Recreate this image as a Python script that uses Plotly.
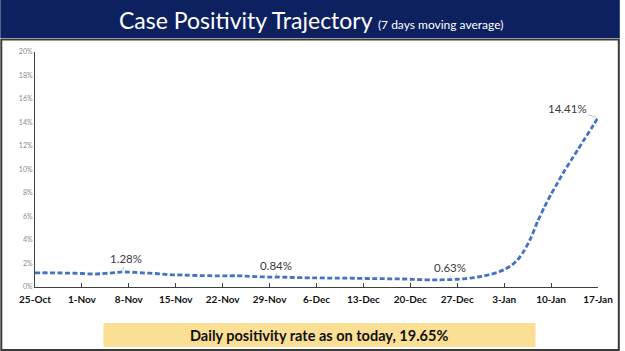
import plotly.graph_objects as go
import pandas as pd

start_date = "2020-10-25"
end_date = "2021-01-17"
positivity = [
    1.20, 1.21, 1.21, 1.20, 1.19, 1.18, 1.17,
    1.15, 1.12, 1.10, 1.14, 1.18, 1.22, 1.28,
    1.27, 1.24, 1.20, 1.18, 1.15, 1.10, 1.05,
    1.03, 1.02, 1.00, 0.98, 0.97, 0.96, 0.95,
    0.95, 0.95, 0.96, 0.94, 0.91, 0.88, 0.86,
    0.84, 0.85, 0.84, 0.82, 0.80, 0.79, 0.78,
    0.78, 0.77, 0.76, 0.76, 0.75, 0.75, 0.74,
    0.73, 0.72, 0.72, 0.71, 0.70, 0.69, 0.68,
    0.66, 0.64, 0.62, 0.61, 0.61, 0.62, 0.63,
    0.66, 0.70, 0.76, 0.84, 0.95, 1.08, 1.25,
    1.48, 1.80, 2.30, 3.10, 4.20, 5.60, 6.80,
    7.90, 8.90, 9.90, 10.80, 11.70, 12.60, 13.50,
    14.41,
]
dates = pd.date_range(start_date, end_date, freq="D")

# labelled points: (date, value, text offset x, offset y)
labels = [
    ("2020-11-07", 1.28, 4, -13),
    ("2020-11-30", 0.84, 0, -12),
    ("2020-12-26", 0.63, -1, -12),
    ("2021-01-17", 14.41, -31, -9),
]
title_main = "Case Positivity Trajectory"
title_sub = "(7 days moving average)"
footer_text = "Daily positivity rate as on today, 19.65%"

W_PLOT = 568.0
H_PLOT = 235.0

def px_x(px):
    return (px - 35) / W_PLOT

def px_y(py):
    return (287 - py) / H_PLOT

fig = go.Figure()
fig.add_trace(go.Scatter(
    x=dates, y=positivity, mode="lines",
    line=dict(color="#4472C4", width=2.8, dash="5px,2.5px", shape="spline", smoothing=0.5),
    hoverinfo="skip", showlegend=False,
))

for d, v, ax, ay in labels:
    fig.add_annotation(
        x=d, y=v, xref="x", yref="y", text=f"{v:.2f}%",
        showarrow=True, arrowhead=0, arrowwidth=0.8, arrowcolor="#b0b0b0",
        ax=ax, ay=ay, standoff=2,
        font=dict(family="Lato", size=11.5, color="#3a3a3a"),
    )

shapes = [
    dict(type="rect", xref="paper", yref="paper", layer="above",
         x0=px_x(0), x1=px_x(625), y0=px_y(38), y1=px_y(0),
         fillcolor="#0d2160", line=dict(width=0)),
    dict(type="rect", xref="paper", yref="paper", layer="above",
         x0=px_x(1), x1=px_x(624), y0=px_y(350), y1=px_y(39.5),
         fillcolor="rgba(0,0,0,0)", line=dict(color="#3a3a3a", width=2)),
    dict(type="rect", xref="paper", yref="paper", layer="above",
         x0=px_x(104), x1=px_x(540), y0=px_y(347), y1=px_y(323),
         fillcolor="#fbdf95", line=dict(width=0)),
]
fig.update_layout(shapes=shapes)

fig.add_annotation(
    xref="paper", yref="paper", x=px_x(313), y=px_y(20),
    text=f"{title_main} <span style='font-size:12px'>{title_sub}</span>",
    showarrow=False, font=dict(family="Lato", size=23, color="white"),
    xanchor="center", yanchor="middle",
)
fig.add_annotation(
    xref="paper", yref="paper", x=px_x(322), y=px_y(335),
    text=f"<b>{footer_text}</b>",
    showarrow=False, font=dict(family="Lato", size=14.5, color="#111111"),
    xanchor="center", yanchor="middle",
)
# y axis arrow head
fig.add_annotation(
    x=start_date, y=20.4, xref="x", yref="y", ax=0, ay=8, text="",
    showarrow=True, arrowhead=2, arrowsize=0.8, arrowwidth=1, arrowcolor="#404040",
)

fig.update_xaxes(
    type="date", range=[start_date, end_date],
    tick0=start_date, dtick=7 * 86400000, tickformat="%-d-%b",
    showline=True, linecolor="#404040", linewidth=1,
    ticks="inside", ticklen=4, tickcolor="#404040",
    showgrid=False, zeroline=False, ticklabelstandoff=3,
    tickfont=dict(family="Lato", size=10, color="#111111", weight="bold"),
)
fig.update_yaxes(
    range=[0, 20], dtick=2, ticksuffix="%",
    showline=True, linecolor="#404040", linewidth=1,
    ticks="", showgrid=False, zeroline=False,
    tickfont=dict(family="Lato", size=7, color="#8a8a8a"),
)
fig.update_layout(
    width=625, height=351,
    margin=dict(l=35, r=22, t=52, b=64),
    paper_bgcolor="white", plot_bgcolor="white",
    showlegend=False,
)
fig.write_html("out.html")
